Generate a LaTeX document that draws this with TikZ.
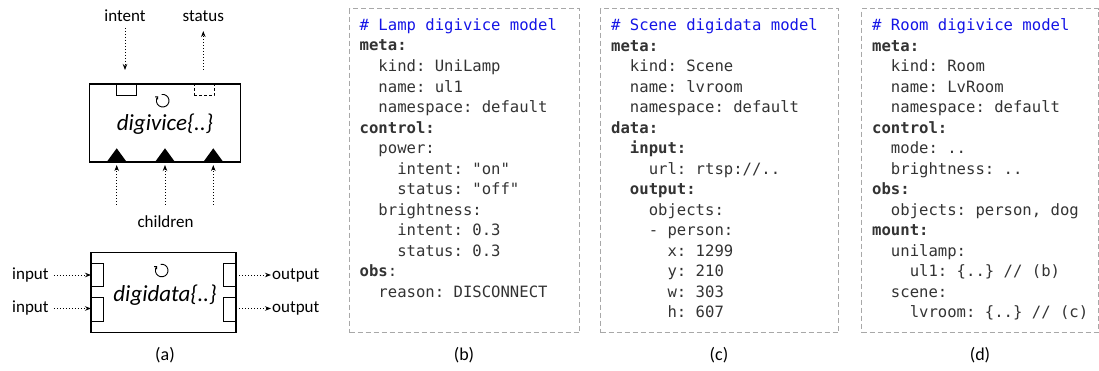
\documentclass[tikz,border=0pt]{standalone}
\usepackage{fontspec}
\setmainfont{Carlito}
\setmonofont{DejaVu Sans Mono}
\usetikzlibrary{arrows.meta}
\definecolor{codegray}{HTML}{333333}
\definecolor{codeblue}{HTML}{1414E6}
\definecolor{boxgray}{HTML}{A8A8A8}
\newcommand\Ia{\hphantom{xx}}
\newcommand\Ib{\hphantom{xxxx}}
\newcommand\Ic{\hphantom{xxxxxx}}
\newcommand\ttl[1]{\textcolor{codeblue}{#1}}
\tikzset{
  lbl/.style={font=\fontsize{17}{20}\selectfont, inner sep=0},
  sublbl/.style={font=\fontsize{18}{20}\selectfont, inner sep=0},
  biglbl/.style={font=\itshape\fontsize{23}{26}\selectfont, inner sep=0},
  code/.style={font=\ttfamily\fontsize{15.6}{20.5}\selectfont, text=codegray, align=left, anchor=base west, inner sep=0},
  codebox/.style={draw=boxgray, dash pattern=on 5pt off 3pt, line width=1.1pt, anchor=north west, inner sep=0},
  mainbox/.style={draw, line width=1.2pt, inner sep=0},
  port/.style={draw, line width=1pt, inner sep=0},
  dport/.style={draw, line width=1pt, inner sep=0, dash pattern=on 3pt off 2pt},
  dotarr/.style={line width=0.9pt, dash pattern=on 0.9pt off 2.1pt, -{Stealth[length=6pt,width=4.5pt]}},
  refresh/.style={line width=0.9pt},
}
\begin{document}
\begin{tikzpicture}[x=1pt,y=-1pt]
\useasboundingbox (0,0) rectangle (1099,371);

% ---------- (a) digivice ----------
\node[mainbox, minimum width=151pt, minimum height=78pt] (dv) at (165.3,123) {};
\node[biglbl] (dvl) at (165,124) {digivice\{..\}};
\node[port, minimum width=20.5pt, minimum height=11.5pt, anchor=north] (pin) at (126.3,84) {};
\node[dport, minimum width=20pt, minimum height=11.5pt, anchor=north] (pst) at (204,84) {};
\draw[refresh, -{Straight Barb[length=2pt,width=3.5pt]}] (162.7,100.7) ++(-100:6.3) arc (-100:225:6.3);

\node[lbl] (intent) at (125,16) {intent};
\node[lbl] (status) at (203.3,16) {status};
\coordinate (intentend) at (125,70);
\coordinate (statusend) at (203.3,31);
\coordinate (statusstart) at (203.3,70);
\draw[dotarr] (125,28) -- (intentend);
\draw[dotarr] (statusstart) -- (statusend);

\foreach \i/\x in {1/116.7, 2/165, 3/213.3} {
  \fill (\x-10,162) -- (\x+10,162) -- (\x,148.3) -- cycle;
  \coordinate (tri\i) at (\x,165);
  \coordinate (ch\i) at (\x,205);
  \draw[dotarr] (ch\i) -- (tri\i);
}
\node[lbl] (children) at (165.5,221.5) {children};

% ---------- (a) digidata ----------
\node[mainbox, minimum width=145pt, minimum height=79.5pt] (dd) at (163.5,292.5) {};
\node[biglbl] (ddl) at (165,295) {digidata\{..\}};
\draw[refresh, -{Straight Barb[length=2pt,width=3.5pt]}] (161.7,270.5) ++(-100:6.3) arc (-100:225:6.3);
\node[port, minimum width=11.7pt, minimum height=23.4pt, anchor=west] (in1) at (91,275) {};
\node[port, minimum width=11.7pt, minimum height=24pt, anchor=west] (in2) at (91,309.7) {};
\node[port, minimum width=12.3pt, minimum height=23.4pt, anchor=east] (out1) at (236,275) {};
\node[port, minimum width=12.3pt, minimum height=24pt, anchor=east] (out2) at (236,309.7) {};

\node[lbl, anchor=west] (inl1) at (12,275) {input};
\node[lbl, anchor=west] (inl2) at (12,308.5) {input};
\node[lbl, anchor=west] (outl1) at (272,275) {output};
\node[lbl, anchor=west] (outl2) at (272,308.5) {output};
\draw[dotarr] ([xshift=5pt]inl1.east) -- (in1.west);
\draw[dotarr] ([xshift=5pt]inl2.east) -- (in2.west |- inl2.east);
\draw[dotarr] (out1.east) -- ([xshift=-1pt]outl1.west);
\draw[dotarr] (out2.east |- outl2.west) -- ([xshift=-1pt]outl2.west);

% ---------- code boxes ----------
\node[codebox, minimum width=230pt, minimum height=324pt] (bb) at (349,8) {};
\node[codebox, minimum width=238pt, minimum height=324pt] (cb) at (600,8) {};
\node[codebox, minimum width=236.5pt, minimum height=324pt] (db) at (861,8) {};

% base anchor of a multi-line node = baseline of its last line
\node[code] (bcode) at (359.5,297) {%
\ttl{\# Lamp digivice model}\\
\textbf{meta:}\\
\Ia kind: UniLamp\\
\Ia name: ul1\\
\Ia namespace: default\\
\textbf{control:}\\
\Ia power:\\
\Ib intent: "on"\\
\Ib status: "off"\\
\Ia brightness:\\
\Ib intent: 0.3\\
\Ib status: 0.3\\
\textbf{obs}:\\
\Ia reason: DISCONNECT};

\node[code] (ccode) at (611,317.5) {%
\ttl{\# Scene digidata model}\\
\textbf{meta:}\\
\Ia kind: Scene\\
\Ia name: lvroom\\
\Ia namespace: default\\
\textbf{data:}\\
\Ia\textbf{input:}\\
\Ib url: rtsp://..\\
\Ia\textbf{output:}\\
\Ib objects:\\
\Ib - person:\\
\Ic x: 1299\\
\Ic y: 210\\
\Ic w: 303\\
\Ic h: 607};

\node[code] (dcode) at (872,317.5) {%
\ttl{\# Room digivice model}\\
\textbf{meta:}\\
\Ia kind: Room\\
\Ia name: LvRoom\\
\Ia namespace: default\\
\textbf{control:}\\
\Ia mode: ..\\
\Ia brightness: ..\\
\textbf{obs:}\\
\Ia objects: person, dog\\
\textbf{mount:}\\
\Ia unilamp:\\
\Ib ul1: \{..\} // (b)\\
\Ia scene:\\
\Ib lvroom: \{..\} // (c)};

% ---------- captions ----------
\node[sublbl] (capa) at (165,355) {(a)};
\node[sublbl] (capb) at (464,355) {(b)};
\node[sublbl] (capc) at (719,355) {(c)};
\node[sublbl] (capd) at (980,355) {(d)};
\end{tikzpicture}
\end{document}
